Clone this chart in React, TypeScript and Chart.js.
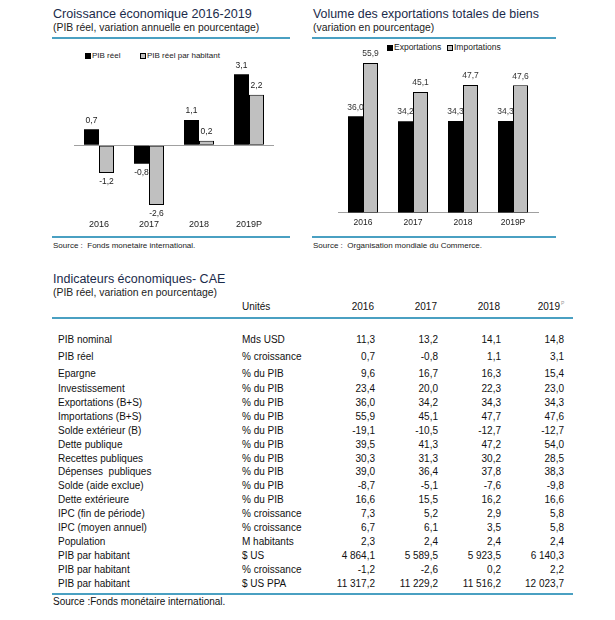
import React, { useEffect, useRef } from 'react';
import { Chart, registerables } from 'chart.js';

Chart.register(...registerables);

const FONT = '"Liberation Sans", Arial, Helvetica, sans-serif';
const TEAL = '#4aa0c2';
const NAVY = '#1b2b4b';

// ---------- Data ----------
const growthYears = ['2016', '2017', '2018', '2019P'];
const pibReel = [0.7, -0.8, 1.1, 3.1];
const pibReelHabitant = [-1.2, -2.6, 0.2, 2.2];

const tradeYears = ['2016', '2017', '2018', '2019P'];
const exportations = [36.0, 34.2, 34.3, 34.3];
const importations = [55.9, 45.1, 47.7, 47.6];

const tableYears = ['2016', '2017', '2018', '2019'];
const indicatorLabels = [
  'PIB nominal',
  'PIB réel',
  'Epargne',
  'Investissement',
  'Exportations (B+S)',
  'Importations (B+S)',
  'Solde extérieur (B)',
  'Dette publique',
  'Recettes publiques',
  'Dépenses  publiques',
  'Solde (aide exclue)',
  'Dette extérieure',
  'IPC (fin de période)',
  'IPC (moyen annuel)',
  'Population',
  'PIB par habitant',
  'PIB par habitant',
  'PIB par habitant',
];
const indicatorUnits = [
  'Mds USD',
  '% croissance',
  '% du PIB',
  '% du PIB',
  '% du PIB',
  '% du PIB',
  '% du PIB',
  '% du PIB',
  '% du PIB',
  '% du PIB',
  '% du PIB',
  '% du PIB',
  '% croissance',
  '% croissance',
  'M habitants',
  '$ US',
  '% croissance',
  '$ US PPA',
];
const values2016 = [11.3, 0.7, 9.6, 23.4, 36.0, 55.9, -19.1, 39.5, 30.3, 39.0, -8.7, 16.6, 7.3, 6.7, 2.3, 4864.1, -1.2, 11317.2];
const values2017 = [13.2, -0.8, 16.7, 20.0, 34.2, 45.1, -10.5, 41.3, 31.3, 36.4, -5.1, 15.5, 5.2, 6.1, 2.4, 5589.5, -2.6, 11229.2];
const values2018 = [14.1, 1.1, 16.3, 22.3, 34.3, 47.7, -12.7, 47.2, 30.2, 37.8, -7.6, 16.2, 2.9, 3.5, 2.4, 5923.5, 0.2, 11516.2];
const values2019 = [14.8, 3.1, 15.4, 23.0, 34.3, 47.6, -12.7, 54.0, 28.5, 38.3, -9.8, 16.6, 5.8, 5.8, 2.4, 6140.3, 2.2, 12023.7];

// ---------- Helpers ----------
function fmt(v: number): string {
  const s = Math.abs(v).toFixed(1);
  const [i, d] = s.split('.');
  const ig = i.replace(/\B(?=(\d{3})+(?!\d))/g, ' ');
  return (v < 0 ? '-' : '') + ig + ',' + d;
}

const valueLabels = {
  id: 'valueLabels',
  afterDatasetsDraw(chart: any, _args: any, opts: any) {
    const ctx = chart.ctx;
    ctx.save();
    ctx.font = `${opts.size}px ${FONT}`;
    ctx.fillStyle = opts.color;
    ctx.textAlign = 'center';
    ctx.textBaseline = 'middle';
    chart.data.datasets.forEach((ds: any, i: number) => {
      const meta = chart.getDatasetMeta(i);
      meta.data.forEach((el: any, j: number) => {
        const v = ds.data[j];
        const y = v >= 0 ? el.y - opts.offset : el.y + opts.offset;
        ctx.fillText(fmt(v), el.x, y);
      });
    });
    ctx.restore();
  },
};

type TxtProps = {
  x: number;
  y: number;
  size: number;
  color?: string;
  anchor?: 'start' | 'end';
  children: React.ReactNode;
};

const Txt = ({ x, y, size, color = '#111', anchor = 'start', children }: TxtProps) => {
  const common: React.CSSProperties = {
    position: 'absolute',
    top: y - 0.85 * size,
    fontSize: size,
    lineHeight: `${size}px`,
    color,
    whiteSpace: 'pre',
    fontFamily: FONT,
  };
  if (anchor === 'end') {
    return <div style={{ ...common, right: 615 - x, textAlign: 'right' }}>{children}</div>;
  }
  return <div style={{ ...common, left: x }}>{children}</div>;
};

const Rule = ({ x1, x2, y }: { x1: number; x2: number; y: number }) => (
  <div style={{ position: 'absolute', left: x1, top: y - 1, width: x2 - x1, height: 1.6, background: TEAL }} />
);

const Swatch = ({ x, y, fill, border }: { x: number; y: number; fill: string; border?: boolean }) => (
  <div
    style={{
      position: 'absolute',
      left: x,
      top: y,
      width: border ? 4 : 6,
      height: border ? 4 : 6,
      background: fill,
      border: border ? '1px solid #000' : 'none',
    }}
  />
);

// ---------- Component ----------
export default function App() {
  const growthRef = useRef<HTMLCanvasElement>(null);
  const tradeRef = useRef<HTMLCanvasElement>(null);

  useEffect(() => {
    Chart.defaults.font.family = FONT;
    const growth = new Chart(growthRef.current as HTMLCanvasElement, {
      type: 'bar',
      data: {
        labels: growthYears,
        datasets: [
          { label: 'PIB réel', data: pibReel, backgroundColor: '#000000', borderColor: '#000000', borderWidth: 0 },
          {
            label: 'PIB réel par habitant',
            data: pibReelHabitant,
            backgroundColor: '#c0c0c0',
            borderColor: '#000000',
            borderWidth: 1,
            borderSkipped: false,
          },
        ],
      },
      options: {
        responsive: false,
        animation: false,
        layout: { padding: { left: 22, right: 16, top: 13.5, bottom: 0 } },
        datasets: { bar: { categoryPercentage: 0.6, barPercentage: 1.0 } },
        scales: {
          x: {
            grid: { display: false, drawTicks: false },
            border: { display: false },
            ticks: { font: { size: 9, family: FONT }, color: '#222', padding: 5 },
          },
          y: {
            min: -3,
            max: 4,
            ticks: { display: false, stepSize: 1 },
            border: { display: false },
            grid: {
              drawTicks: false,
              color: (c: any) => (c.tick && c.tick.value === 0 ? '#a0a0a0' : 'rgba(0,0,0,0)'),
            },
          },
        },
        plugins: {
          legend: { display: false },
          tooltip: { enabled: false },
          valueLabels: { size: 8.5, color: '#222', offset: 9 },
        } as any,
      },
      plugins: [valueLabels],
    });

    const trade = new Chart(tradeRef.current as HTMLCanvasElement, {
      type: 'bar',
      data: {
        labels: tradeYears,
        datasets: [
          { label: 'Exportations', data: exportations, backgroundColor: '#000000', borderWidth: 0 },
          {
            label: 'Importations',
            data: importations,
            backgroundColor: '#c0c0c0',
            borderColor: '#000000',
            borderWidth: 1,
            borderSkipped: false,
          },
        ],
      },
      options: {
        responsive: false,
        animation: false,
        layout: { padding: { left: 26, right: 18, top: 12, bottom: 0 } },
        datasets: { bar: { categoryPercentage: 0.6, barPercentage: 1.0 } },
        scales: {
          x: {
            grid: { display: false, drawTicks: false },
            border: { display: true, color: '#a0a0a0', width: 1 },
            ticks: { font: { size: 8.5, family: FONT }, color: '#222', padding: 5 },
          },
          y: { display: false, min: 0, max: 60 },
        },
        plugins: {
          legend: { display: false },
          tooltip: { enabled: false },
          valueLabels: { size: 8.5, color: '#333', offset: 9 },
        } as any,
      },
      plugins: [valueLabels],
    });

    return () => {
      growth.destroy();
      trade.destroy();
    };
  }, []);

  const rowBaseline = (i: number) => (i < 3 ? 343.5 + 16.8 * i : 392.5 + 13.9 * (i - 3));
  const valueCols = [values2016, values2017, values2018, values2019];
  const valueRight = [375, 438, 501, 564];
  const headerRight = [374, 437, 500, 560];

  return (
    <div
      style={{
        position: 'absolute',
        left: 0,
        top: 0,
        width: 615,
        height: 620,
        background: '#fff',
        fontFamily: FONT,
        overflow: 'hidden',
      }}
    >
      {/* Left panel */}
      <Txt x={53} y={18.3} size={12.6} color={NAVY}>Croissance économique 2016-2019</Txt>
      <Txt x={53} y={32.3} size={10.4} color="#222">(PIB réel, variation annuelle en pourcentage)</Txt>
      <Rule x1={52} x2={290} y={38} />
      <Swatch x={85} y={53} fill="#000" />
      <Txt x={92} y={58.5} size={8} color="#222">PIB réel</Txt>
      <Swatch x={140} y={53} fill="#c0c0c0" border />
      <Txt x={147} y={58.5} size={8} color="#222">PIB réel par habitant</Txt>
      <canvas
        ref={growthRef}
        width={238}
        height={195}
        style={{ position: 'absolute', left: 52, top: 40, width: 238, height: 195 }}
      />
      <Rule x1={52} x2={290} y={237} />
      <Txt x={53} y={249} size={8} color="#222">Source :  Fonds monetaire international.</Txt>

      {/* Right panel */}
      <Txt x={313} y={18.3} size={12.4} color={NAVY}>Volume des exportations totales de biens</Txt>
      <Txt x={313} y={32.3} size={10.4} color="#222">(variation en pourcentage)</Txt>
      <Rule x1={312} x2={556} y={38} />
      <Swatch x={387} y={44.5} fill="#000" />
      <Txt x={394} y={50.5} size={8.5} color="#222">Exportations</Txt>
      <Swatch x={447} y={44.5} fill="#c0c0c0" border />
      <Txt x={454} y={50.5} size={8.5} color="#222">Importations</Txt>
      <canvas
        ref={tradeRef}
        width={244}
        height={193}
        style={{ position: 'absolute', left: 312, top: 40, width: 244, height: 193 }}
      />
      <Rule x1={312} x2={556} y={237} />
      <Txt x={313} y={249} size={8} color="#222">Source :  Organisation mondiale du Commerce.</Txt>

      {/* Table */}
      <Txt x={53} y={284} size={12.5} color={NAVY}>Indicateurs économiques- CAE</Txt>
      <Txt x={53} y={297} size={10.4} color="#222">(PIB réel, variation en pourcentage)</Txt>
      <Txt x={242} y={310} size={10}>Unités</Txt>
      {tableYears.map((yr, k) => (
        <Txt key={yr} x={headerRight[k]} y={310} size={10} anchor="end">
          {yr}
        </Txt>
      ))}
      <Txt x={561} y={305} size={5} color="#999">P</Txt>
      <Rule x1={52} x2={573} y={318} />
      {indicatorLabels.map((lab, i) => (
        <React.Fragment key={i}>
          <Txt x={58} y={rowBaseline(i)} size={10}>{lab}</Txt>
          <Txt x={242} y={rowBaseline(i)} size={10}>{indicatorUnits[i]}</Txt>
          {valueCols.map((col, k) => (
            <Txt key={k} x={valueRight[k]} y={rowBaseline(i)} size={10} anchor="end">
              {fmt(col[i])}
            </Txt>
          ))}
        </React.Fragment>
      ))}
      <Rule x1={52} x2={573} y={594} />
      <Txt x={53} y={605} size={10}>Source :Fonds monétaire international.</Txt>
    </div>
  );
}
